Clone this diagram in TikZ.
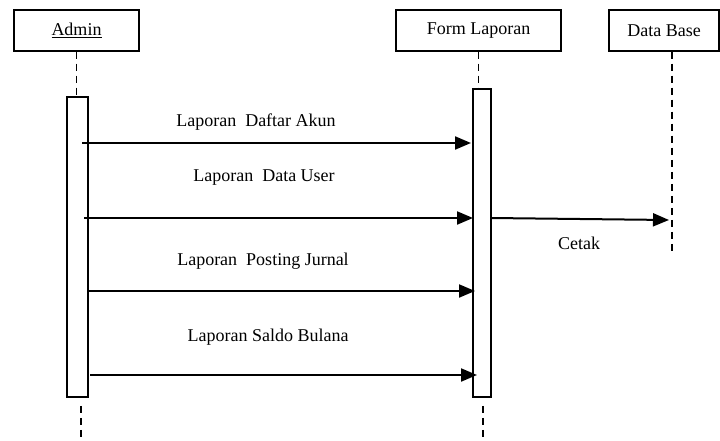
\documentclass[tikz,border=0pt]{standalone}
\usepackage{fontspec}
\setmainfont{Liberation Serif}
\usetikzlibrary{arrows.meta,positioning}
\tikzset{obj/.style = {draw=black, line width=1.5pt, minimum height=41pt, inner sep=0pt, font=\fontsize{18}{20}\selectfont}}
\tikzset{act/.style = {draw=black, line width=1.5pt, inner sep=0pt}}
\tikzset{life/.style = {line width=1.4pt, dash pattern=on 7pt off 5pt}}
\tikzset{msg/.style = {line width=2pt, -{Triangle[length=16pt,width=13pt]}}}
\tikzset{lbl/.style = {inner sep=0pt, font=\fontsize{18}{20}\selectfont}}
\begin{document}
\begin{tikzpicture}[x=1pt,y=-1pt]
\useasboundingbox (0,0) rectangle (720,441);

% objects
\node[obj, minimum width=125pt] (admin) at (76.5,30.5) {\underline{Admin}};
\node[obj, minimum width=165pt] (form) at (478.5,30.5) {Form Laporan};
\node[obj, minimum width=110pt] (db) at (664,30.5) {Data Base};

% activations
\node[act, minimum width=21pt, minimum height=300pt] (admact) at (77.5,247) {};
\node[act, minimum width=18pt, minimum height=308pt] (formact) at (482,243) {};

% lifelines
\coordinate (admend) at (81,441);
\coordinate (formend) at (483,441);
\coordinate (dbend) at (672,255);
\draw[life] (admin.south) -- (admin.south |- admact.north);
\draw[life] (form.south) -- (form.south |- formact.north);
\draw[life] (admend |- admact.south) ++(0,8) -- (admend);
\draw[life] (formend |- formact.south) ++(0,8) -- (formend);
\draw[life] (db.south -| dbend) -- (dbend);

% messages
\coordinate (m1a) at (82,143);  \coordinate (m1b) at (471,143);
\coordinate (m2a) at (84,218);  \coordinate (m2b) at (473,218);
\coordinate (m3a) at (88,291);  \coordinate (m3b) at (475,291);
\coordinate (m4a) at (90,375);  \coordinate (m4b) at (477,375);
\coordinate (m5a) at (491,218); \coordinate (m5b) at (669,220);

\draw[msg] (m1a) -- (m1b);
\draw[msg] (m2a) -- (m2b);
\draw[msg] (m3a) -- (m3b);
\draw[msg] (m4a) -- (m4b);
\draw[msg] (m5a) -- (m5b);

\node[lbl] (l1) at (256,122) {Laporan~~Daftar Akun};
\node[lbl] (l2) at (264,178) {Laporan~~Data User};
\node[lbl] (l3) at (263,261) {Laporan~~Posting Jurnal};
\node[lbl] (l4) at (268,337) {Laporan Saldo Bulana};
\node[lbl] (l5) at (579,243) {Cetak};
\end{tikzpicture}
\end{document}
